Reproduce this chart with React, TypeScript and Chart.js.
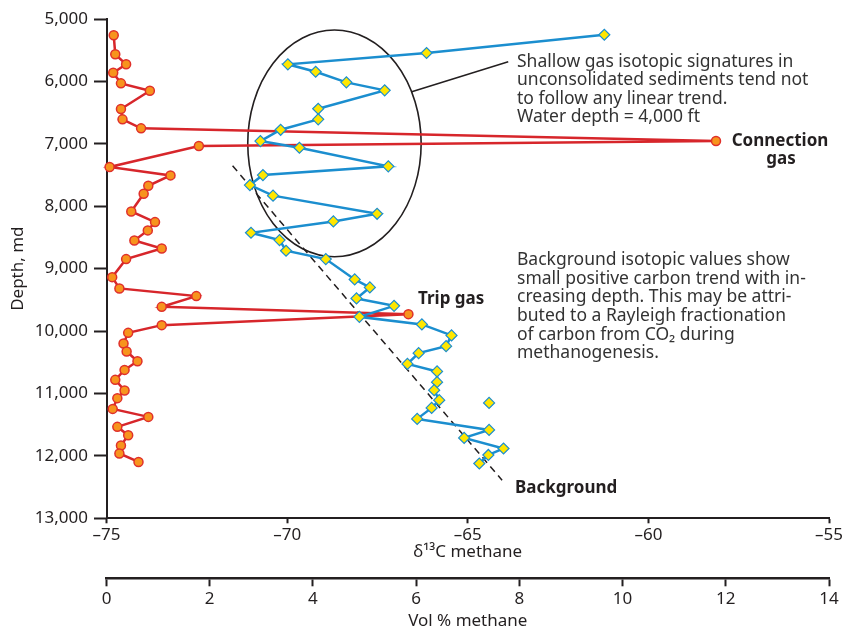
import React, { useEffect, useRef } from 'react';
import { Chart, registerables } from 'chart.js';

Chart.register(...registerables);

// ---- Data ----
// Red series: Vol % methane vs depth (md)
const redDepth = [5261, 5566, 5726, 5861, 6031, 6149, 6443, 6608, 6752, 6956, 7036, 7372, 7506, 7673, 7801, 8083, 8254, 8387, 8548, 8676, 8847, 9136, 9317, 9440, 9612, 9729, 9905, 10029, 10199, 10327, 10483, 10622, 10782, 10952, 11075, 11247, 11375, 11535, 11668, 11834, 11962, 12097];
const redVol = [0.14, 0.17, 0.38, 0.13, 0.28, 0.84, 0.28, 0.31, 0.67, 11.81, 1.79, 0.06, 1.24, 0.81, 0.72, 0.48, 0.94, 0.8, 0.54, 1.07, 0.38, 0.11, 0.25, 1.74, 1.07, 5.85, 1.07, 0.42, 0.33, 0.39, 0.6, 0.35, 0.17, 0.35, 0.21, 0.12, 0.81, 0.21, 0.42, 0.28, 0.25, 0.62];

// Blue series: delta13C methane vs depth (md)
const blueDepth = [5252, 5545, 5726, 5845, 6015, 6143, 6438, 6608, 6775, 6956, 7063, 7361, 7501, 7661, 7830, 8121, 8243, 8425, 8542, 8713, 8847, 9173, 9301, 9477, 9596, 9772, 9894, 10070, 10242, 10354, 10526, 10647, 10819, 10947, 11107, 11231, 11407, 11584, 11712, 11882, 11985, 12122];
const blueDelta = [-61.22, -66.14, -69.98, -69.21, -68.36, -67.3, -69.14, -69.14, -70.18, -70.74, -69.66, -67.2, -70.67, -71.03, -70.39, -67.51, -68.72, -71.0, -70.21, -70.03, -68.93, -68.13, -67.71, -68.08, -67.04, -68.0, -66.27, -65.45, -65.6, -66.36, -66.67, -65.85, -65.85, -65.93, -65.79, -66.0, -66.4, -64.41, -65.1, -64.01, -64.43, -64.68];

// Unconnected blue sample
const outlierDepth = [11151];
const outlierDelta = [-64.41];

// Background trend (dashed)
const trendDepth = [7352, 12390];
const trendDelta = [-71.51, -64.05];

// Shallow-gas ellipse (delta centre, depth centre) and half-axes
const ellipseCenter = [-68.69, 6993];
const ellipseHalf = [2.4, 1816];

// Leader from ellipse to note
const leaderDepth = [6165, 5684];
const leaderDelta = [-66.55, -63.88];

// Axes
const depthMin = 5000, depthMax = 13000, depthStep = 1000;
const deltaMin = -75, deltaMax = -55, deltaStep = 5;
const volMin = 0, volMax = 14, volStep = 2;

const noteShallow = [
  'Shallow gas isotopic signatures in',
  'unconsolidated sediments tend not',
  'to follow any linear trend.',
  'Water depth = 4,000 ft',
];
const noteBackground = [
  'Background isotopic values show',
  'small positive carbon trend with in-',
  'creasing depth. This may be attri-',
  'buted to a Rayleigh fractionation',
  'of carbon from CO\u2082 during',
  'methanogenesis.',
];

const INK = '#231f20';
const FONT = '"Noto Sans", "Liberation Sans", Arial, sans-serif';

const zip = (xs: number[], ys: number[]) => xs.map((x, i) => ({ x, y: ys[i] }));

const overlayPlugin = {
  id: 'overlay',
  beforeDatasetsDraw(chart: any) {
    const { ctx, scales } = chart;
    const x = scales.x, y = scales.y;
    const cx = x.getPixelForValue(ellipseCenter[0]);
    const cy = y.getPixelForValue(ellipseCenter[1]);
    const rx = Math.abs(x.getPixelForValue(ellipseCenter[0] + ellipseHalf[0]) - cx);
    const ry = Math.abs(y.getPixelForValue(ellipseCenter[1] + ellipseHalf[1]) - cy);
    ctx.save();
    ctx.beginPath();
    ctx.ellipse(cx, cy, rx, ry, 0, 0, Math.PI * 2);
    ctx.strokeStyle = INK;
    ctx.lineWidth = 1.6;
    ctx.stroke();
    ctx.restore();
  },
  afterDraw(chart: any) {
    const { ctx } = chart;
    ctx.save();
    ctx.fillStyle = '#333333';
    ctx.textBaseline = 'middle';
    ctx.textAlign = 'left';
    ctx.font = `17.5px ${FONT}`;
    noteShallow.forEach((t, i) => ctx.fillText(t, 517, 62 + i * 18.5));
    noteBackground.forEach((t, i) => ctx.fillText(t, 517, 260 + i * 18.7));
    ctx.fillStyle = INK;
    ctx.font = `bold 17px ${FONT}`;
    ctx.textAlign = 'center';
    ctx.fillText('Connection', 780, 141);
    ctx.fillText('gas', 781, 159);
    ctx.textAlign = 'left';
    ctx.fillText('Trip gas', 418, 299);
    ctx.fillText('Background', 515, 488);
    ctx.restore();
  },
};

export default function App() {
  const ref = useRef<HTMLCanvasElement | null>(null);

  useEffect(() => {
    if (!ref.current) return;
    const tickFont = { family: FONT, size: 17 };
    const chart = new Chart(ref.current, {
      type: 'scatter',
      data: {
        datasets: [
          {
            label: 'delta13C',
            data: zip(blueDelta, blueDepth),
            xAxisID: 'x',
            showLine: true,
            borderColor: '#1b8ecf',
            borderWidth: 2.5,
            pointStyle: 'rectRot',
            pointRadius: 5.5,
            pointBackgroundColor: '#ffe600',
            pointBorderColor: '#1b8ecf',
            pointBorderWidth: 1.2,
            clip: false,
          },
          {
            label: 'outlier',
            data: zip(outlierDelta, outlierDepth),
            xAxisID: 'x',
            showLine: false,
            pointStyle: 'rectRot',
            pointRadius: 5.5,
            pointBackgroundColor: '#ffe600',
            pointBorderColor: '#1b8ecf',
            pointBorderWidth: 1.2,
            clip: false,
          },
          {
            label: 'vol',
            data: zip(redVol, redDepth),
            xAxisID: 'x2',
            showLine: true,
            borderColor: '#d7262b',
            borderWidth: 2.5,
            pointStyle: 'circle',
            pointRadius: 4.5,
            pointBackgroundColor: '#f7941d',
            pointBorderColor: '#e0302a',
            pointBorderWidth: 1.5,
            clip: false,
          },
          {
            label: 'trend',
            data: zip(trendDelta, trendDepth),
            xAxisID: 'x',
            showLine: true,
            borderColor: INK,
            borderWidth: 1.5,
            borderDash: [7, 5],
            pointRadius: 0,
          },
          {
            label: 'leader',
            data: zip(leaderDelta, leaderDepth),
            xAxisID: 'x',
            showLine: true,
            borderColor: INK,
            borderWidth: 1.5,
            pointRadius: 0,
          },
        ],
      },
      options: {
        animation: false,
        responsive: false,
        events: [],
        layout: { padding: { top: 19, right: 12.5, bottom: 0, left: 0 } },
        plugins: { legend: { display: false }, tooltip: { enabled: false } },
        scales: {
          y: {
            type: 'linear',
            position: 'left',
            reverse: true,
            min: depthMin,
            max: depthMax,
            afterFit: (s: any) => { s.width = 106.5; },
            ticks: {
              stepSize: depthStep,
              color: INK,
              font: tickFont,
              padding: 6,
              callback: (v: any) => Number(v).toLocaleString('en-US'),
            },
            grid: { drawOnChartArea: false, drawTicks: true, tickLength: 12.5, tickWidth: 2, tickColor: INK, color: INK },
            border: { display: true, color: INK, width: 2 },
            title: { display: true, text: 'Depth, md', color: INK, font: { family: FONT, size: 17 }, padding: { top: 8, bottom: 0 } },
          },
          x: {
            type: 'linear',
            position: 'bottom',
            weight: 0,
            min: deltaMin,
            max: deltaMax,
            afterFit: (s: any) => { s.height = 60; },
            ticks: {
              stepSize: deltaStep,
              color: INK,
              font: tickFont,
              padding: 2,
              maxRotation: 0,
              autoSkip: false,
              callback: (v: any) => (Number(v) < 0 ? '\u2013' + Math.abs(Number(v)) : String(v)),
            },
            grid: { drawOnChartArea: false, drawTicks: true, tickLength: 5, tickWidth: 2, tickColor: INK, color: INK },
            border: { display: true, color: INK, width: 2 },
            title: { display: true, text: '\u03b4\u00b9\u00b3C methane', color: INK, font: { family: FONT, size: 17 }, padding: { top: 0, bottom: 16 } },
          },
          x2: {
            type: 'linear',
            position: 'bottom',
            weight: 1,
            min: volMin,
            max: volMax,
            afterFit: (s: any) => { s.height = 50.7; },
            ticks: {
              stepSize: volStep,
              color: INK,
              font: tickFont,
              padding: 3,
              maxRotation: 0,
              autoSkip: false,
            },
            grid: { drawOnChartArea: false, drawTicks: true, tickLength: 8, tickWidth: 2, tickColor: INK, color: INK },
            border: { display: true, color: INK, width: 2.5 },
            title: { display: true, text: 'Vol % methane', color: INK, font: { family: FONT, size: 17 }, padding: { top: 0, bottom: -2 } },
          },
        },
      },
      plugins: [overlayPlugin],
    } as any);
    return () => chart.destroy();
  }, []);

  return (
    <div style={{ position: 'absolute', left: 0, top: 0, width: 845, height: 629, background: '#fff' }}>
      <canvas ref={ref} width={845} height={629} style={{ width: 845, height: 629, display: 'block' }} />
    </div>
  );
}
